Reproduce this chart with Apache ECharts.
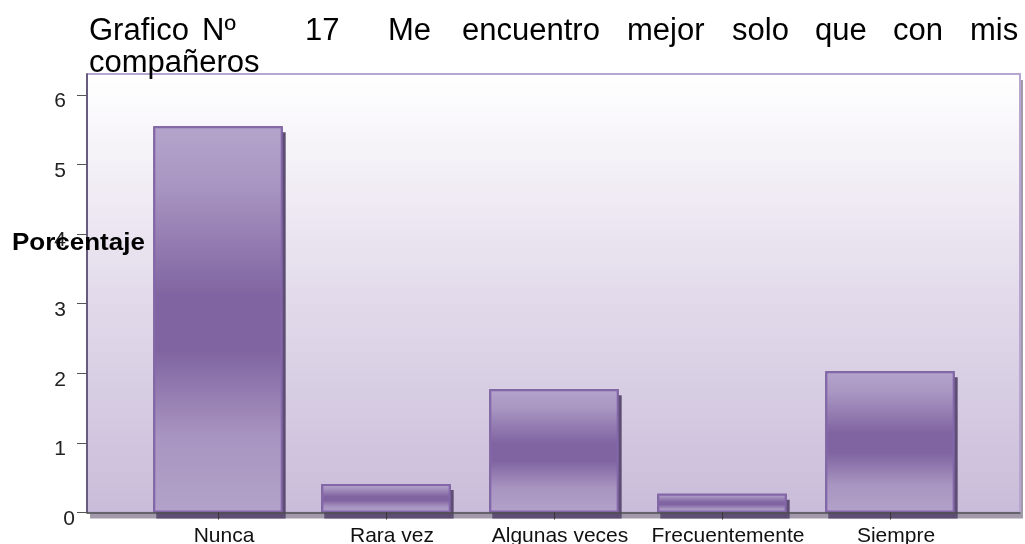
<!DOCTYPE html>
<html>
<head>
<meta charset="utf-8">
<title>Grafico Nº 17</title>
<script src="https://cdn.jsdelivr.net/npm/echarts@6/dist/echarts.min.js"></script>
<style>
  html, body { margin: 0; padding: 0; background: #ffffff; }
  #chart { width: 1025px; height: 544px; }
</style>
</head>
<body>
<div id="chart"></div>
<script>
// Survey answers and their share
const categories = ['Nunca', 'Rara vez', 'Algunas veces', 'Frecuentemente', 'Siempre'];
const porcentaje = [5.55, 0.41, 1.77, 0.27, 2.03];
const yTicks = [0, 1, 2, 3, 4, 5, 6];

// Heading, set as a justified first line plus a short second line
const titleLine1 = ['Grafico', 'Nº', '17', 'Me', 'encuentro', 'mejor', 'solo', 'que', 'con', 'mis'];
const titleLine2 = ['compañeros'];
const axisName = 'Porcentaje';

const FONT = '"Liberation Sans", Arial, Helvetica, sans-serif';
const word1X = [89, 202, 305, 388, 462, 627, 732, 815, 893, 970];
const Y_MAX = 6.3;

const chart = echarts.init(document.getElementById('chart'), null, { renderer: 'canvas' });

const titleTexts = [];
titleLine1.forEach((w, i) => {
  titleTexts.push({
    type: 'text', x: word1X[i], y: 31, z: 100,
    style: { text: w, font: '31px ' + FONT, fill: '#000', align: 'left', verticalAlign: 'middle' }
  });
});
titleLine2.forEach((w) => {
  titleTexts.push({
    type: 'text', x: 89, y: 63, z: 100,
    style: { text: w, font: '31px ' + FONT, fill: '#000', align: 'left', verticalAlign: 'middle' }
  });
});
titleTexts.push({
  type: 'text', x: 12, y: 244, scaleX: 1.13, z: 100,
  style: { text: axisName, font: 'bold 23px ' + FONT, fill: '#000', align: 'left', verticalAlign: 'middle' }
});

const plotBg = new echarts.graphic.LinearGradient(0, 0, 0, 1, [
  { offset: 0, color: '#ffffff' },
  { offset: 0.5, color: '#e3dbeb' },
  { offset: 1, color: '#c9bcd9' }
]);

const barFill = new echarts.graphic.LinearGradient(0, 0, 0, 1, [
  { offset: 0, color: '#b4a4cb' },
  { offset: 0.15, color: '#a996c2' },
  { offset: 0.44, color: '#8064a1' },
  { offset: 0.58, color: '#8064a1' },
  { offset: 0.8, color: '#a894c0' },
  { offset: 1, color: '#b2a2c9' }
]);

const hiddenValueAxis = (grid, isY) => ({
  gridIndex: grid, type: 'value', min: 0, max: isY ? Y_MAX : 1, show: false,
  splitLine: { show: false }
});

const yLabelStyle = {
  fontSize: 21, fontFamily: FONT, color: '#222',
  verticalAlign: 'top', lineHeight: 13
};

const gridBox = { left: 87, right: 5, top: 74, bottom: 31.5, outerBoundsMode: 'none', containLabel: false };

const option = {
  animation: false,
  backgroundColor: '#ffffff',
  graphic: titleTexts,
  grid: [
    // plot panel with its drop shadow
    Object.assign({
      show: true,
      backgroundColor: plotBg,
      borderWidth: 0,
      shadowColor: '#a29aab',
      shadowBlur: 0,
      shadowOffsetX: 3,
      shadowOffsetY: 6
    }, gridBox),
    // bar area
    Object.assign({}, gridBox, { left: 134, right: 51 }),
    // panel outline
    Object.assign({
      show: true, backgroundColor: 'transparent',
      borderColor: '#b7a7d0', borderWidth: 2
    }, gridBox)
  ],
  xAxis: [
    {
      gridIndex: 0, type: 'value', min: 0, max: 1, z: 10,
      axisLine: { show: true, lineStyle: { color: '#4d4d4d', width: 1.5 } },
      axisTick: { show: false }, axisLabel: { show: false }, splitLine: { show: false }
    },
    {
      gridIndex: 1, type: 'category', data: categories, z: 10,
      axisLine: { show: false },
      axisTick: { show: true, alignWithLabel: true, length: 7, lineStyle: { color: '#333', width: 1 } },
      axisLabel: { interval: 0, margin: 13, fontSize: 21, fontFamily: FONT, color: '#111', padding: [0, 0, 0, 12] },
      splitLine: { show: false }
    },
    hiddenValueAxis(2, false)
  ],
  yAxis: [
    {
      gridIndex: 0, type: 'value', min: 0, max: Y_MAX, position: 'left', z: 10,
      axisLine: { show: true, lineStyle: { color: '#4e4262', width: 1.5 } },
      axisTick: { show: true, length: 10, customValues: yTicks, lineStyle: { color: '#555', width: 1 } },
      axisLabel: Object.assign({ customValues: yTicks.filter(v => v > 0), margin: 21 }, yLabelStyle),
      splitLine: { show: false }
    },
    {
      gridIndex: 0, type: 'value', min: 0, max: Y_MAX, position: 'left',
      axisLine: { show: false }, axisTick: { show: false },
      axisLabel: Object.assign({ customValues: yTicks.filter(v => v === 0), margin: 12 }, yLabelStyle),
      splitLine: { show: false }
    },
    hiddenValueAxis(1, true),
    hiddenValueAxis(2, true)
  ],
  series: [
    // drop shadow of each bar
    {
      type: 'bar',
      xAxisIndex: 1,
      yAxisIndex: 2,
      data: porcentaje,
      barWidth: '77%',
      barGap: '-100%',
      z: 2,
      silent: true,
      itemStyle: {
        color: '#5e4e73',
        shadowColor: '#5e4e73',
        shadowBlur: 0,
        shadowOffsetX: 3,
        shadowOffsetY: 6
      }
    },
    {
      type: 'bar',
      name: axisName,
      xAxisIndex: 1,
      yAxisIndex: 2,
      data: porcentaje,
      barWidth: '77%',
      barGap: '-100%',
      z: 3,
      itemStyle: {
        color: barFill,
        borderColor: '#8467ab',
        borderWidth: 2
      }
    }
  ]
};

chart.setOption(option);
</script>
</body>
</html>
